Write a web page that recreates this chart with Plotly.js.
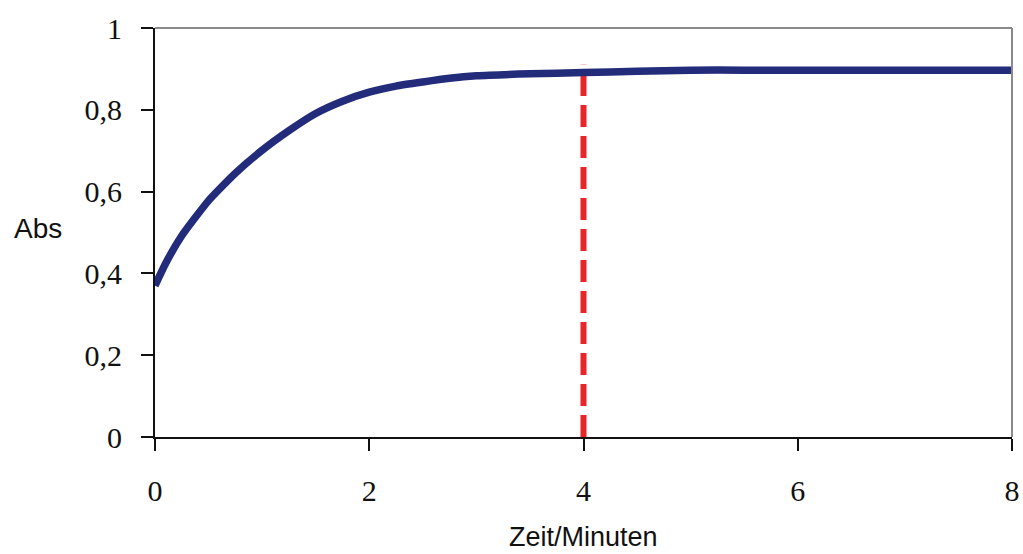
<!DOCTYPE html>
<html>
<head>
<meta charset="utf-8">
<script src="https://cdn.plot.ly/plotly-3.0.1.min.js"></script>
<style>
  html, body { margin: 0; padding: 0; background: #ffffff; }
  #chart { width: 1023px; height: 554px; }
</style>
</head>
<body>
<div id="chart"></div>
<script>
// Data
var timeMinutes = [0, 0.1, 0.25, 0.5, 0.75, 1.0, 1.25, 1.5, 1.75, 2.0, 2.25, 2.5, 2.75, 3.0, 3.5, 4.0, 4.5, 5.0, 5.5, 6.0, 6.5, 7.0, 7.5, 8.0];
var absValues   = [0.37, 0.425, 0.492, 0.578, 0.645, 0.701, 0.749, 0.791, 0.821, 0.843, 0.858, 0.868, 0.877, 0.883, 0.888, 0.891, 0.894, 0.897, 0.897, 0.897, 0.897, 0.897, 0.897, 0.897];

var markerX = [4, 4];
var markerY = [0, 0.91];

var xTickVals = [0, 2, 4, 6, 8];
var xTickText = ["0", "2", "4", "6", "8"];
var yTickVals = [0, 0.2, 0.4, 0.6, 0.8, 1];
var yTickText = ["0", "0,2", "0,4", "0,6", "0,8", "1"];

var xTitle = "Zeit/Minuten";
var yTitle = "Abs";

var traces = [
  {
    x: markerX, y: markerY, type: "scatter", mode: "lines",
    line: { color: "#e8262a", width: 6, dash: "22px,9px" },
    hoverinfo: "skip", showlegend: false
  },
  {
    x: timeMinutes, y: absValues, type: "scatter", mode: "lines",
    line: { color: "#222c7a", width: 7.5, shape: "spline", smoothing: 0.5 },
    showlegend: false
  }
];

var layout = {
  width: 1023, height: 554,
  margin: { l: 155, r: 11, t: 28, b: 117 },
  paper_bgcolor: "#ffffff", plot_bgcolor: "#ffffff",
  showlegend: false,
  xaxis: {
    range: [0, 8], tickvals: xTickVals, ticktext: xTickText,
    showgrid: false, zeroline: false,
    showline: true, linecolor: "#111111", linewidth: 2,
    ticks: "outside", ticklen: 12, tickwidth: 2, tickcolor: "#111111",
    ticklabelstandoff: 14,
    tickfont: { family: "Liberation Serif, Times New Roman, serif", size: 30, color: "#111111" },
    fixedrange: true
  },
  yaxis: {
    range: [0, 1], tickvals: yTickVals, ticktext: yTickText,
    showgrid: false, zeroline: false,
    showline: true, linecolor: "#111111", linewidth: 2,
    ticks: "outside", ticklen: 12, tickwidth: 2, tickcolor: "#111111",
    ticklabelstandoff: 13,
    tickfont: { family: "Liberation Serif, Times New Roman, serif", size: 30, color: "#111111" },
    fixedrange: true
  },
  shapes: [
    { type: "line", xref: "paper", yref: "paper", x0: 0, x1: 1, y0: 1, y1: 1,
      line: { color: "#8a8a8a", width: 2 } },
    { type: "line", xref: "paper", yref: "paper", x0: 1, x1: 1, y0: 0, y1: 1,
      line: { color: "#8a8a8a", width: 2 } }
  ],
  annotations: [
    { text: yTitle, xref: "paper", yref: "paper", x: -0.137, y: 0.51,
      xanchor: "center", yanchor: "middle", showarrow: false,
      font: { family: "Liberation Sans, Arial, sans-serif", size: 28, color: "#111111" } },
    { text: xTitle, xref: "paper", yref: "paper", x: 0.5, y: -0.244,
      xanchor: "center", yanchor: "middle", showarrow: false,
      font: { family: "Liberation Sans, Arial, sans-serif", size: 27, color: "#111111" } }
  ]
};

Plotly.newPlot("chart", traces, layout, { displayModeBar: false, staticPlot: true });
</script>
</body>
</html>
